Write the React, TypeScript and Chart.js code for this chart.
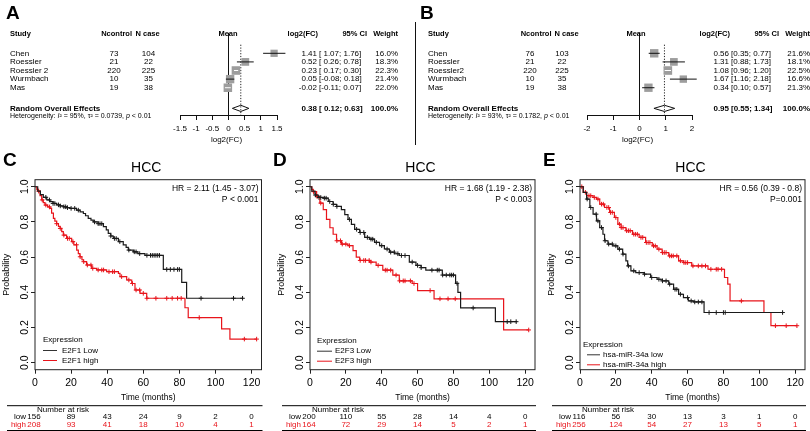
import React, { useEffect, useRef } from "react";
import { Chart, registerables } from "chart.js";

Chart.register(...registerables);

const FONT = "Arial, 'Liberation Sans', Helvetica, sans-serif";
const RED = "#e8141b";
const DARK = "#1a1a1a";
const BOX_GRAY = "#9d9d9d";

// ================= Panel A (forest) =================
const aStudies = ["Chen", "Roessler", "Roessler 2", "Wurmbach", "Mas"];
const aNcontrol = [73, 21, 220, 10, 19];
const aNcase = [104, 22, 225, 35, 38];
const aMean = [1.41, 0.52, 0.23, 0.05, -0.02];
const aLower = [1.07, 0.26, 0.17, -0.08, -0.11];
const aUpper = [1.76, 0.78, 0.3, 0.18, 0.07];
const aWeight = [16.0, 18.3, 22.3, 21.4, 22.0];
const aOverall = [0.38, 0.12, 0.63];
const aHet = ["95%", "0.0739", "0.01"];
const aTicks = [-1.5, -1, -0.5, 0, 0.5, 1, 1.5];

// ================= Panel B (forest) =================
const bStudies = ["Chen", "Roessler", "Roessler2", "Wurmbach", "Mas"];
const bNcontrol = [76, 21, 220, 10, 19];
const bNcase = [103, 22, 225, 35, 38];
const bMean = [0.56, 1.31, 1.08, 1.67, 0.34];
const bLower = [0.35, 0.88, 0.96, 1.16, 0.1];
const bUpper = [0.77, 1.73, 1.2, 2.18, 0.57];
const bWeight = [21.6, 18.1, 22.5, 16.6, 21.3];
const bOverall = [0.95, 0.55, 1.34];
const bHet = ["93%", "0.1782", "0.01"];
const bTicks = [-2, -1, 0, 1, 2];

// ================= KM shared ticks =================
const kmTimeTicks = [0, 20, 40, 60, 80, 100, 120];
const kmProbTicks = [0, 0.2, 0.4, 0.6, 0.8, 1.0];

// ================= Panel C =================
const cLowT = [0, 1.5, 3, 4.6, 6.5, 8.3, 10, 12, 14, 15.7, 17.5, 19.4, 23, 25, 26.8, 28, 29.5, 31, 32.3, 35, 37.9, 39.5, 40.6, 42, 43.4, 46.2, 48.9, 50.5, 51.7, 54.5, 57, 60.9, 71.1, 81.3, 84, 115.4];
const cLowS = [1, 0.975, 0.955, 0.94, 0.925, 0.915, 0.905, 0.897, 0.891, 0.886, 0.881, 0.877, 0.867, 0.857, 0.848, 0.835, 0.82, 0.81, 0.8, 0.79, 0.773, 0.755, 0.735, 0.72, 0.706, 0.688, 0.669, 0.655, 0.64, 0.63, 0.62, 0.61, 0.53, 0.456, 0.366, 0.366];
const cHighT = [0, 1, 1.8, 2.8, 3.7, 4.6, 5.5, 7, 8.3, 9.2, 10.2, 11, 12, 13, 13.9, 14.8, 15.7, 17.5, 20.3, 21.5, 23.1, 24, 24.9, 26, 26.8, 28.6, 31.4, 34.2, 39.7, 46.2, 47.1, 50.8, 53.6, 55.4, 58.2, 61.9, 83.1, 84.9, 103.4, 108, 122.8];
const cHighS = [1, 0.985, 0.975, 0.95, 0.925, 0.91, 0.896, 0.885, 0.877, 0.85, 0.82, 0.805, 0.79, 0.775, 0.763, 0.745, 0.725, 0.706, 0.688, 0.67, 0.64, 0.62, 0.602, 0.585, 0.574, 0.555, 0.536, 0.527, 0.517, 0.508, 0.489, 0.47, 0.45, 0.413, 0.394, 0.366, 0.312, 0.256, 0.192, 0.134, 0.134];
const cLowCensor = [6, 8, 10, 11, 13, 14, 16, 17, 18, 20, 22, 24, 33, 35, 36, 37, 42, 44, 45, 47, 52, 55, 56, 58, 62, 64, 65, 66, 67, 68, 69, 73, 75, 77, 79, 80, 92, 110, 115];
const cHighCensor = [2, 4, 6, 8, 12, 14, 16, 18, 19, 21, 23, 25, 27, 29, 31, 32, 35, 37, 38, 41, 43, 44, 48, 52, 54, 56, 58, 60, 62, 67, 73, 76, 79, 81, 91, 116, 122.8];
const cRiskLow = [156, 89, 43, 24, 9, 2, 0];
const cRiskHigh = [208, 93, 41, 18, 10, 4, 1];

// ================= Panel D =================
const dLowT = [0, 1, 2.8, 4.6, 7.4, 10.2, 12.9, 14.8, 17.5, 19.4, 21.2, 23.1, 24.9, 27.7, 30.5, 33.2, 36, 38.8, 41.5, 44.3, 47.1, 49.8, 55.4, 59.1, 62, 64.6, 73.8, 81.2, 82.5, 84, 103.4, 115.4];
const dLowS = [1, 0.975, 0.953, 0.939, 0.935, 0.916, 0.9, 0.888, 0.87, 0.842, 0.814, 0.786, 0.758, 0.74, 0.712, 0.702, 0.684, 0.665, 0.646, 0.628, 0.619, 0.609, 0.572, 0.553, 0.54, 0.526, 0.498, 0.451, 0.4, 0.311, 0.233, 0.233];
const dHighT = [0, 1, 1.8, 3.7, 5.5, 7.4, 9.2, 11.1, 12.9, 14.8, 17.5, 21.2, 24, 25.8, 27.7, 33.2, 36.9, 40.6, 46.2, 49.8, 57, 60, 69.2, 108, 122];
const dHighS = [1, 0.985, 0.972, 0.944, 0.907, 0.87, 0.814, 0.767, 0.73, 0.693, 0.674, 0.665, 0.637, 0.6, 0.581, 0.572, 0.553, 0.526, 0.498, 0.465, 0.45, 0.41, 0.363, 0.186, 0.186];
const dLowCensor = [3, 5, 6, 8, 9, 11, 13, 15, 22, 26, 28, 30, 32, 34, 35, 37, 40, 43, 45, 47, 49, 51, 53, 57, 60, 62, 68, 71, 72, 74, 76, 78, 79, 80, 82, 91, 110, 112, 115];
const dHighCensor = [2, 4, 6, 15, 17, 18, 20, 22, 28, 30, 31, 33, 34, 38, 42, 43, 45, 48, 50, 52, 53, 56, 58, 67, 72.5, 77, 81, 122];
const dRiskLow = [200, 110, 55, 28, 14, 4, 0];
const dRiskHigh = [164, 72, 29, 14, 5, 2, 1];

// ================= Panel E =================
const eLowT = [0, 1.8, 3.7, 5.5, 7.3, 9.2, 11, 12.8, 13.7, 15.6, 18.3, 21.1, 23.8, 25.6, 26.6, 28.4, 31.1, 35.7, 39.4, 43, 45.8, 49.5, 52.2, 55, 57.7, 60.4, 63.2, 69.2, 112.6];
const eLowS = [1, 0.968, 0.93, 0.882, 0.844, 0.806, 0.768, 0.73, 0.693, 0.674, 0.664, 0.645, 0.617, 0.579, 0.55, 0.522, 0.512, 0.503, 0.484, 0.474, 0.465, 0.446, 0.417, 0.389, 0.37, 0.351, 0.345, 0.285, 0.285];
const eHighT = [0, 1.8, 3.7, 7.3, 9.2, 11, 13.7, 16.5, 19.2, 21.1, 22.9, 25.6, 29.3, 33, 36.6, 40.3, 43, 45.8, 49.5, 55, 57.7, 62.3, 71.4, 80.6, 82.4, 83.7, 102.6, 106.5, 121];
const eHighS = [1, 0.968, 0.949, 0.939, 0.93, 0.901, 0.882, 0.854, 0.825, 0.787, 0.768, 0.75, 0.73, 0.712, 0.683, 0.664, 0.645, 0.626, 0.607, 0.579, 0.569, 0.55, 0.531, 0.484, 0.446, 0.351, 0.285, 0.21, 0.21];
const eLowCensor = [4, 6, 9, 10, 12, 14, 16, 18, 20, 22, 24, 27, 30, 33, 36, 40, 44, 46, 48, 50, 53, 54, 56, 60, 62, 64, 66, 68, 72, 76, 80, 81, 113];
const eHighCensor = [1, 3, 5, 6, 8, 10, 12, 13, 15, 16, 17, 18, 20, 22, 23, 24, 26, 27, 28, 30, 31, 32, 34, 35, 37, 38, 39, 41, 42, 44, 46, 47, 48, 50, 51, 52, 54, 56, 58, 59, 60, 63, 66, 68, 70, 73, 76, 77, 79, 90, 109, 115, 121];
const eRiskLow = [116, 56, 30, 13, 3, 1, 0];
const eRiskHigh = [256, 124, 54, 27, 13, 5, 1];

// ---------------------------------------------------------------
function survAt(times: number[], surv: number[], t: number) {
  let s = surv[0];
  for (let i = 0; i < times.length; i++) {
    if (times[i] <= t) s = surv[i];
    else break;
  }
  return s;
}

type ForestCfg = {
  letter: string; letterX: number;
  studies: string[]; nControl: number[]; nCase: number[];
  mean: number[]; lower: number[]; upper: number[]; weight: number[];
  overall: number[]; het: string[]; ticks: number[];
  xMin: number; xMax: number; areaLeft: number; areaRight: number;
  studyX: number; nCtrlHeadR: number; nCaseHeadL: number; nCtrlX: number; nCaseX: number;
  meanHeadX: number; log2R: number; separator: boolean;
};

const FOREST_W = 410;
const FOREST_H = 145;
const OVERALL_ROW = 7.4;
const FOREST_AXIS_Y = 115;

function buildForest(canvas: HTMLCanvasElement, f: ForestCfg) {
  const pxPerUnit = (f.areaRight - f.areaLeft) / (f.xMax - f.xMin);
  const side = (w: number) => 8.5 * Math.sqrt(w / 22);
  const ciSets = f.studies.map((_, i) => ({
    type: "scatter",
    data: [{ x: f.lower[i], y: i + 1 }, { x: f.upper[i], y: i + 1 }],
    showLine: true,
    borderColor: (f.upper[i] - f.lower[i]) * pxPerUnit < side(f.weight[i]) ? "#ffffff" : "#111111",
    borderWidth: 1,
    pointRadius: 0,
    clip: false,
  }));
  const boxes = {
    type: "scatter",
    data: f.mean.map((m, i) => ({ x: m, y: i + 1 })),
    pointStyle: "rect",
    pointRadius: f.weight.map((w) => side(w) / Math.SQRT2),
    backgroundColor: BOX_GRAY,
    borderColor: BOX_GRAY,
    borderWidth: 0,
    showLine: false,
    clip: false,
  };
  const zeroLine = {
    type: "scatter",
    data: [{ x: 0, y: -1.36 }, { x: 0, y: 8.17 }],
    showLine: true, borderColor: "#111", borderWidth: 1, pointRadius: 0, clip: false,
  };
  const meanLine = {
    type: "scatter",
    data: [{ x: f.overall[0], y: 0 }, { x: f.overall[0], y: 8.17 }],
    showLine: true, borderColor: "#222", borderWidth: 1, borderDash: [1.2, 1.6], pointRadius: 0, clip: false,
  };
  const d = 0.36;
  const diamond = {
    type: "scatter",
    data: [
      { x: f.overall[1], y: OVERALL_ROW },
      { x: f.overall[0], y: OVERALL_ROW - d },
      { x: f.overall[2], y: OVERALL_ROW },
      { x: f.overall[0], y: OVERALL_ROW + d },
      { x: f.overall[1], y: OVERALL_ROW },
    ],
    showLine: true, borderColor: "#111", borderWidth: 1, pointRadius: 0, clip: false, fill: false,
  };

  const anyNeg = f.lower.some((v) => v < 0) || f.overall[1] < 0;
  const fmtLo = (v: number) => (anyNeg && v >= 0 ? " " : "") + v.toFixed(2);
  const ciText = (lo: number, hi: number) => `[${fmtLo(lo)}; ${hi.toFixed(2)}]`;

  const textPlugin = {
    id: "forestText",
    afterDraw(chart: any) {
      const { ctx, scales, chartArea } = chart;
      const y = scales.y;
      const rowY = (r: number) => y.getPixelForValue(r);
      ctx.save();
      ctx.fillStyle = "#000";
      ctx.textBaseline = "middle";
      // letter
      ctx.font = `bold 19px ${FONT}`;
      ctx.textAlign = "left";
      ctx.fillText(f.letter, f.letterX, 14);
      // separator
      if (f.separator) {
        ctx.strokeStyle = "#111";
        ctx.lineWidth = 1;
        ctx.beginPath();
        ctx.moveTo(15.5, 22);
        ctx.lineTo(15.5, 145);
        ctx.stroke();
      }
      // header
      const hy = rowY(-1.25);
      ctx.font = `bold 7.5px ${FONT}`;
      ctx.textAlign = "left";
      ctx.fillText("Study", f.studyX, hy);
      ctx.textAlign = "right";
      ctx.fillText("Ncontrol", f.nCtrlHeadR, hy);
      ctx.textAlign = "left";
      ctx.fillText("N case", f.nCaseHeadL, hy);
      ctx.textAlign = "center";
      ctx.fillText("Mean", f.meanHeadX, hy);
      ctx.textAlign = "right";
      ctx.fillText("log2(FC)", f.log2R + 1, hy);
      ctx.fillText("95% CI", f.log2R + 50, hy);
      ctx.fillText("Weight", f.log2R + 81, hy);
      // rows
      ctx.font = `8px ${FONT}`;
      f.studies.forEach((s, i) => {
        const ry = rowY(i + 1);
        ctx.textAlign = "left";
        ctx.fillText(s, f.studyX, ry);
        ctx.textAlign = "center";
        ctx.fillText(String(f.nControl[i]), f.nCtrlX, ry);
        ctx.fillText(String(f.nCase[i]), f.nCaseX, ry);
        ctx.textAlign = "right";
        ctx.fillText(f.mean[i].toFixed(2), f.log2R, ry);
        ctx.textAlign = "left";
        ctx.fillText(ciText(f.lower[i], f.upper[i]), f.log2R + 2, ry);
        ctx.textAlign = "right";
        ctx.fillText(f.weight[i].toFixed(1) + "%", f.log2R + 81, ry);
      });
      // overall
      const oy = rowY(OVERALL_ROW);
      ctx.font = `bold 8px ${FONT}`;
      ctx.textAlign = "left";
      ctx.fillText("Random Overall Effects", f.studyX, oy);
      ctx.textAlign = "right";
      ctx.fillText(f.overall[0].toFixed(2), f.log2R, oy);
      ctx.textAlign = "left";
      ctx.fillText(ciText(f.overall[1], f.overall[2]), f.log2R + 2, oy);
      ctx.textAlign = "right";
      ctx.fillText("100.0%", f.log2R + 81, oy);
      // heterogeneity
      const hty = rowY(8.3);
      const segs: [string, boolean][] = [
        ["Heterogeneity: ", false], ["I", true], ["\u00b2 = " + f.het[0] + ", ", false],
        ["\u03c4\u00b2 = " + f.het[1] + ", ", false], ["p", true], [" < " + f.het[2], false],
      ];
      ctx.textAlign = "left";
      let hx = f.studyX;
      segs.forEach(([t, it]) => {
        ctx.font = `${it ? "italic " : ""}7px ${FONT}`;
        ctx.fillText(t, hx, hty);
        hx += ctx.measureText(t).width;
      });
      // axis title
      ctx.font = `8px ${FONT}`;
      ctx.textAlign = "center";
      ctx.fillText("log2(FC)", (chartArea.left + chartArea.right) / 2 - 2, 140);
      ctx.restore();
    },
  };

  return new Chart(canvas, {
    type: "scatter",
    data: { datasets: [...ciSets, boxes, zeroLine, meanLine, diamond] as any },
    options: {
      responsive: false,
      animation: false,
      events: [],
      layout: { padding: { left: f.areaLeft, right: FOREST_W - f.areaRight, top: 33, bottom: 0 } },
      plugins: { legend: { display: false }, tooltip: { enabled: false }, title: { display: false } },
      scales: {
        x: {
          type: "linear",
          min: f.xMin,
          max: f.xMax,
          afterBuildTicks: (s: any) => { s.ticks = f.ticks.map((v) => ({ value: v })); },
          afterFit: (s: any) => { s.height = FOREST_H - FOREST_AXIS_Y; },
          border: { display: true, color: "#111", width: 1 },
          grid: { display: true, drawOnChartArea: false, drawTicks: true, tickLength: 5, color: "#111" },
          ticks: { font: { family: FONT, size: 8 }, color: "#000", padding: 3.5, maxRotation: 0, autoSkip: false, callback: (v: any) => String(v) },
        },
        y: { type: "linear", display: false, reverse: true, min: -1.36, max: 8.17 },
      },
    } as any,
    plugins: [textPlugin],
  });
}

type KMCfg = {
  letter: string; boxLeft: number;
  lowT: number[]; lowS: number[]; highT: number[]; highS: number[];
  lowCensor: number[]; highCensor: number[];
  riskLow: number[]; riskHigh: number[];
  hr: string; pval: string; lowLabel: string; highLabel: string;
  legX: number; legLine0: number; legLine1: number; legText: number; legY: number;
};

const KM_W = 270;
const KM_H = 286;
const KM_BOX_TOP = 34.7;
const KM_BOX_BOTTOM = 224.7;
const KM_XAXIS_H = 30;

function buildKM(canvas: HTMLCanvasElement, p: KMCfg) {
  const boxRight = p.boxLeft + 226.5;
  const curve = (t: number[], s: number[], color: string) => ({
    type: "scatter",
    data: t.map((x, i) => ({ x, y: s[i] })),
    showLine: true,
    stepped: "before",
    borderColor: color,
    borderWidth: 1.2,
    pointRadius: 0,
    fill: false,
  });
  const marks = (c: number[], t: number[], s: number[], color: string) => ({
    type: "scatter",
    data: c.map((x) => ({ x, y: survAt(t, s, x) })),
    showLine: false,
    pointStyle: "cross",
    pointRadius: 2.3,
    borderWidth: 1,
    borderColor: color,
    backgroundColor: color,
  });

  const textPlugin = {
    id: "kmText",
    afterDraw(chart: any) {
      const { ctx, chartArea: a, scales } = chart;
      const x = scales.x;
      const y = scales.y;
      ctx.save();
      ctx.strokeStyle = "#222";
      ctx.lineWidth = 1;
      ctx.strokeRect(a.left, a.top, a.right - a.left, a.bottom - a.top);
      ctx.fillStyle = "#000";
      ctx.textBaseline = "middle";
      // y tick labels (rotated)
      ctx.font = `10.5px ${FONT}`;
      ctx.textAlign = "center";
      kmProbTicks.forEach((v) => {
        ctx.save();
        ctx.translate(a.left - 10, y.getPixelForValue(v));
        ctx.rotate(-Math.PI / 2);
        ctx.fillText(v.toFixed(1), 0, 0);
        ctx.restore();
      });
      // y title
      ctx.save();
      ctx.font = `9px ${FONT}`;
      ctx.translate(a.left - 28, (a.top + a.bottom) / 2);
      ctx.rotate(-Math.PI / 2);
      ctx.fillText("Probability", 0, 0);
      ctx.restore();
      // x title
      ctx.font = `8.5px ${FONT}`;
      ctx.fillText("Time (months)", (a.left + a.right) / 2, 253);
      // title
      ctx.font = `14px ${FONT}`;
      ctx.fillText("HCC", (a.left + a.right) / 2 - 2, 23);
      // letter
      ctx.font = `bold 19px ${FONT}`;
      ctx.textAlign = "left";
      ctx.fillText(p.letter, 3, 16);
      // HR
      ctx.font = `8.5px ${FONT}`;
      ctx.textAlign = "right";
      ctx.fillText(p.hr, a.right - 3, 44);
      ctx.fillText(p.pval, a.right - 3, 55);
      // legend
      ctx.font = `8px ${FONT}`;
      ctx.textAlign = "left";
      ctx.fillText("Expression", a.left + p.legX, p.legY);
      const ly1 = p.legY + 10.5;
      const ly2 = p.legY + 20.5;
      ctx.lineWidth = 1;
      ctx.strokeStyle = "#333";
      ctx.beginPath();
      ctx.moveTo(a.left + p.legLine0, ly1);
      ctx.lineTo(a.left + p.legLine1, ly1);
      ctx.stroke();
      ctx.strokeStyle = RED;
      ctx.beginPath();
      ctx.moveTo(a.left + p.legLine0, ly2);
      ctx.lineTo(a.left + p.legLine1, ly2);
      ctx.stroke();
      ctx.fillText(p.lowLabel, a.left + p.legText, ly1);
      ctx.fillText(p.highLabel, a.left + p.legText, ly2);
      // risk table
      ctx.strokeStyle = "#000";
      ctx.beginPath();
      ctx.moveTo(a.left - 28, 260.7);
      ctx.lineTo(a.right + 1, 260.7);
      ctx.moveTo(a.left - 28, 285.5);
      ctx.lineTo(a.right + 1, 285.5);
      ctx.stroke();
      ctx.font = `8px ${FONT}`;
      ctx.fillText("Number at risk", a.left + 2, 264.5);
      ctx.textAlign = "right";
      ctx.fillStyle = "#000";
      ctx.fillText("low", a.left - 9, 271.8);
      ctx.fillStyle = RED;
      ctx.fillText("high", a.left - 9, 279.6);
      ctx.textAlign = "center";
      kmTimeTicks.forEach((t, i) => {
        const px = i === 0 ? a.left - 1 : x.getPixelForValue(t);
        ctx.fillStyle = "#000";
        ctx.fillText(String(p.riskLow[i]), px, 271.8);
        ctx.fillStyle = RED;
        ctx.fillText(String(p.riskHigh[i]), px, 279.6);
      });
      ctx.restore();
    },
  };

  return new Chart(canvas, {
    type: "scatter",
    data: {
      datasets: [
        curve(p.lowT, p.lowS, DARK),
        marks(p.lowCensor, p.lowT, p.lowS, DARK),
        curve(p.highT, p.highS, RED),
        marks(p.highCensor, p.highT, p.highS, RED),
      ] as any,
    },
    options: {
      responsive: false,
      animation: false,
      events: [],
      layout: { padding: { left: p.boxLeft, right: KM_W - boxRight, top: KM_BOX_TOP, bottom: KM_H - KM_BOX_BOTTOM - KM_XAXIS_H } },
      plugins: { legend: { display: false }, tooltip: { enabled: false }, title: { display: false } },
      scales: {
        x: {
          type: "linear",
          min: 0,
          max: 125.5,
          afterBuildTicks: (s: any) => { s.ticks = kmTimeTicks.map((v) => ({ value: v })); },
          afterFit: (s: any) => { s.height = KM_XAXIS_H; },
          border: { display: false },
          grid: { display: true, drawOnChartArea: false, drawTicks: true, tickLength: 4, color: "#222" },
          ticks: { font: { family: FONT, size: 10.5 }, color: "#000", padding: 3.5, maxRotation: 0, autoSkip: false, callback: (v: any) => String(v) },
        },
        y: {
          type: "linear",
          min: -0.04,
          max: 1.04,
          afterBuildTicks: (s: any) => { s.ticks = kmProbTicks.map((v) => ({ value: v })); },
          afterFit: (s: any) => { s.width = 0; },
          border: { display: false },
          grid: { display: true, drawOnChartArea: false, drawTicks: true, tickLength: 4, color: "#222" },
          ticks: { display: false },
        },
      },
    } as any,
    plugins: [textPlugin],
  });
}

function ChartCanvas(props: { left: number; top: number; width: number; height: number; build: (c: HTMLCanvasElement) => Chart }) {
  const ref = useRef<HTMLCanvasElement | null>(null);
  useEffect(() => {
    if (!ref.current) return;
    const chart = props.build(ref.current);
    return () => chart.destroy();
  }, []);
  return (
    <canvas
      ref={ref}
      width={props.width}
      height={props.height}
      style={{ position: "absolute", left: props.left, top: props.top, width: props.width, height: props.height, display: "block" }}
    />
  );
}

const forestA: ForestCfg = {
  letter: "A", letterX: 6,
  studies: aStudies, nControl: aNcontrol, nCase: aNcase, mean: aMean, lower: aLower, upper: aUpper, weight: aWeight,
  overall: aOverall, het: aHet, ticks: aTicks,
  xMin: -1.5, xMax: 1.5, areaLeft: 180, areaRight: 277,
  studyX: 10, nCtrlHeadR: 132, nCaseHeadL: 135.5, nCtrlX: 114, nCaseX: 148.5,
  meanHeadX: 228, log2R: 317, separator: false,
};

const forestB: ForestCfg = {
  letter: "B", letterX: 20,
  studies: bStudies, nControl: bNcontrol, nCase: bNcase, mean: bMean, lower: bLower, upper: bUpper, weight: bWeight,
  overall: bOverall, het: bHet, ticks: bTicks,
  xMin: -2, xMax: 2, areaLeft: 187, areaRight: 292,
  studyX: 28, nCtrlHeadR: 151.5, nCaseHeadL: 154.5, nCtrlX: 130, nCaseX: 162,
  meanHeadX: 236, log2R: 329, separator: true,
};

const kmC: KMCfg = {
  letter: "C", boxLeft: 35,
  lowT: cLowT, lowS: cLowS, highT: cHighT, highS: cHighS, lowCensor: cLowCensor, highCensor: cHighCensor,
  riskLow: cRiskLow, riskHigh: cRiskHigh,
  hr: "HR = 2.11 (1.45 - 3.07)", pval: "P < 0.001", lowLabel: "E2F1 Low", highLabel: "E2F1 high",
  legX: 8, legLine0: 8, legLine1: 22, legText: 27, legY: 195,
};

const kmD: KMCfg = {
  letter: "D", boxLeft: 40,
  lowT: dLowT, lowS: dLowS, highT: dHighT, highS: dHighS, lowCensor: dLowCensor, highCensor: dHighCensor,
  riskLow: dRiskLow, riskHigh: dRiskHigh,
  hr: "HR = 1.68 (1.19 - 2.38)", pval: "P < 0.003", lowLabel: "E2F3 Low", highLabel: "E2F3 high",
  legX: 7, legLine0: 7, legLine1: 22, legText: 25, legY: 195.7,
};

const kmE: KMCfg = {
  letter: "E", boxLeft: 40,
  lowT: eLowT, lowS: eLowS, highT: eHighT, highS: eHighS, lowCensor: eLowCensor, highCensor: eHighCensor,
  riskLow: eRiskLow, riskHigh: eRiskHigh,
  hr: "HR = 0.56 (0.39 - 0.8)", pval: "P=0.001", lowLabel: "hsa-miR-34a low", highLabel: "hsa-miR-34a high",
  legX: 3, legLine0: 7, legLine1: 20, legText: 23, legY: 199.3,
};

export default function App() {
  return (
    <div style={{ position: "absolute", left: 0, top: 0, width: 810, height: 431, background: "#fff", overflow: "hidden" }}>
      <ChartCanvas left={0} top={0} width={FOREST_W} height={FOREST_H} build={(c) => buildForest(c, forestA)} />
      <ChartCanvas left={400} top={0} width={FOREST_W} height={FOREST_H} build={(c) => buildForest(c, forestB)} />
      <ChartCanvas left={0} top={145} width={KM_W} height={KM_H} build={(c) => buildKM(c, kmC)} />
      <ChartCanvas left={270} top={145} width={KM_W} height={KM_H} build={(c) => buildKM(c, kmD)} />
      <ChartCanvas left={540} top={145} width={KM_W} height={KM_H} build={(c) => buildKM(c, kmE)} />
    </div>
  );
}
